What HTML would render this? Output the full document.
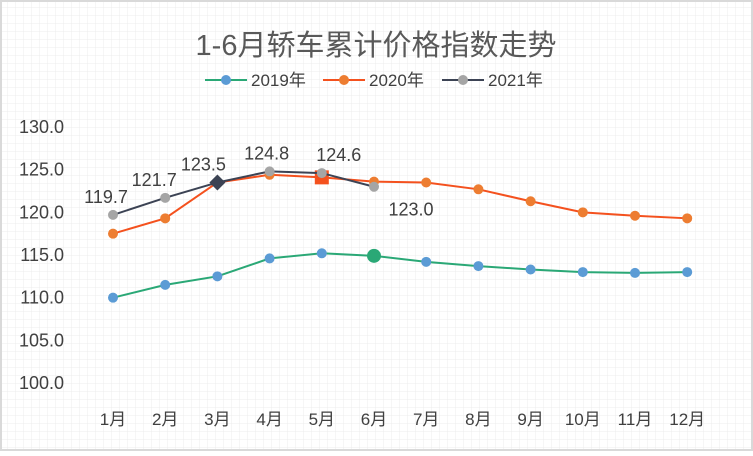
<!DOCTYPE html>
<html><head><meta charset="utf-8"><style>
body{margin:0;background:#fff}
#c{width:753px;height:451px;position:relative}
svg text{font-family:"Liberation Sans","Noto Sans CJK SC",sans-serif;fill:#404040}
</style></head><body>
<div id="c">
<svg id="s" width="753" height="451" xmlns="http://www.w3.org/2000/svg">
<defs><pattern id="g" width="8" height="8" patternUnits="userSpaceOnUse"><path d="M8 0V8M0 8H8" stroke="#ececec" stroke-width="1" fill="none"/></pattern></defs>
<rect x="0" y="0" width="753" height="451" fill="url(#g)"/>
<rect x="1" y="1" width="751" height="449" fill="none" stroke="#d9d9d9" stroke-width="2"/>
<text x="376" y="55" text-anchor="middle" font-size="29" style="fill:#595959">1-6月轿车累计价格指数走势</text>
<g id="legend"></g>
<g id="axes"></g><g id="plot"></g>
</svg></div>
<script>
const months=["1月","2月","3月","4月","5月","6月","7月","8月","9月","10月","11月","12月"];
const yTicks=[100,105,110,115,120,125,130];
const s2019=[110.0,111.5,112.5,114.6,115.2,114.9,114.2,113.7,113.3,113.0,112.9,113.0];
const s2020=[117.5,119.3,123.5,124.4,124.1,123.6,123.5,122.7,121.3,120.0,119.6,119.3];
const s2021=[119.7,121.7,123.5,124.8,124.6,123.0];
const seriesNames=["2019年","2020年","2021年"];
const NS="http://www.w3.org/2000/svg";
const X=i=>113+i*52.2, Y=v=>383-(v-100)*8.533;
function el(t,a,p){const e=document.createElementNS(NS,t);for(const k in a)e.setAttribute(k,a[k]);p.appendChild(e);return e;}
const axes=document.getElementById('axes'),plot=document.getElementById('plot'),leg=document.getElementById('legend');
yTicks.forEach(v=>{const t=el('text',{x:64,y:Y(v)+6,'text-anchor':'end','font-size':18},axes);t.textContent=v.toFixed(1);

});
months.forEach((m,i)=>{const t=el('text',{x:X(i),y:425,'text-anchor':'middle','font-size':17},axes);t.textContent=m;

});
const cfg=[{d:s2019,line:"#2aa876",mk:"#5b9bd5"},{d:s2020,line:"#f4511e",mk:"#ed7d31"},{d:s2021,line:"#3c4354",mk:"#a5a5a5"}];
cfg.forEach((c,k)=>{
 const p=el('polyline',{points:c.d.map((v,i)=>X(i)+','+Y(v)).join(' '),fill:'none',stroke:c.line,'stroke-width':2},plot);
 
 
 c.d.forEach((v,i)=>{let m;
  if(k==0&&i==5)m=el('circle',{cx:X(i),cy:Y(v),r:7,fill:'#2aa876'},plot);
  else if(k==1&&i==4)m=el('rect',{x:X(i)-7,y:Y(v)-7,width:14,height:14,fill:'#f4511e'},plot);
  else if(k==2&&i==2)m=el('polygon',{points:`${X(i)},${Y(v)-8} ${X(i)+8},${Y(v)} ${X(i)},${Y(v)+8} ${X(i)-8},${Y(v)}`,fill:'#3c4354'},plot);
  else m=el('circle',{cx:X(i),cy:Y(v),r:5,fill:c.mk},plot);
  
  
 });
});
s2021.forEach((v,i)=>{const dx=[-7,-11,-14,-3,17,37][i],dy=i==5?29:-12;
 const t=el('text',{x:X(i)+dx,y:Y(v)+dy,'text-anchor':'middle','font-size':18},plot);t.textContent=v.toFixed(1);
 
 });
const lx=[205,323,442];
cfg.forEach((c,k)=>{el('line',{x1:lx[k],y1:80,x2:lx[k]+42,y2:80,stroke:c.line,'stroke-width':2},leg);
 el('circle',{cx:lx[k]+21,cy:80,r:5,fill:c.mk},leg);
 const t=el('text',{x:lx[k]+46,y:86,'font-size':17},leg);t.textContent=seriesNames[k];
 
 });
</script></body></html>
